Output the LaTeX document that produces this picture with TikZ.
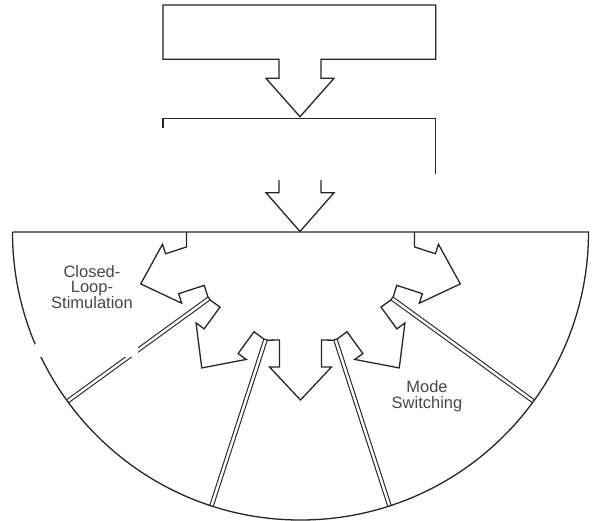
\documentclass[tikz,border=0pt]{standalone}
\usepackage{fontspec}
\setmainfont{Liberation Sans}
\usetikzlibrary{calc}
\begin{document}
\begin{tikzpicture}[x=1pt,y=-1pt,
  outl/.style={line width=1.3pt, draw=black!85, line join=miter},
  divider/.style={draw=black!85, line width=1.1pt, double=white, double distance=2.4pt},
  lbl/.style={font=\fontsize{16.5}{15.5}\selectfont, text=black!72, align=center, inner sep=0pt}]
\useasboundingbox (0,0) rectangle (599,520);

% top box with block arrow
\draw[outl] (279,59.3) -- (163,59.3) -- (163,5) -- (435.7,5) -- (435.7,59.3) -- (321,59.3)
  -- (321,78.3) -- (334,78.3) -- (300,116.7) -- (266,78.3) -- (279,78.3) -- cycle;

% second box (partly erased)
\draw[outl] (163,128.3) -- (163,118.3) -- (435.7,118.3) -- (435.7,174);
% second block arrow
\draw[outl] (279,180) -- (279,192.7) -- (266,192.7) -- (300,231.5) -- (334,192.7) -- (321,192.7) -- (321,180);

% semicircle geometry
\coordinate (C) at (300.5,232);
\coordinate (L) at (12.5,232);
\coordinate (R) at (588.5,232);

\foreach \p [count=\i] in {36,72,108,144} {
  \coordinate (d\i) at ($(C)+(\p:113)$);
  \coordinate (dl\i) at ($(C)+(\p:113)+(\p-90:2.3)$);
  \coordinate (dr\i) at ($(C)+(\p:113)+(\p+90:2.3)$);
  \coordinate (o\i) at ($(C)+(\p:288)$);
}
\foreach \i in {1,...,4} { \draw[divider] (d\i) -- (o\i); }

\draw[outl] (L) -- (R) arc[start angle=0, end angle=180, radius=288];

\foreach \t [count=\i] in {18,54,90,126,162} {
  \coordinate (a\i1) at ($(C)+(\t:108)+(\t-90:21)$);
  \coordinate (a\i2) at ($(C)+(\t:135)+(\t-90:21)$);
  \coordinate (a\i3) at ($(C)+(\t:135)+(\t-90:31)$);
  \coordinate (a\i4) at ($(C)+(\t:168)$);
  \coordinate (a\i5) at ($(C)+(\t:135)+(\t+90:31)$);
  \coordinate (a\i6) at ($(C)+(\t:135)+(\t+90:21)$);
  \coordinate (a\i7) at ($(C)+(\t:108)+(\t+90:21)$);
}
\coordinate (s0) at ($(C)+(18:113)+(-72:21)$);
\coordinate (s4) at ($(C)+(162:113)+(252:21)$);

\draw[outl] (s0 |- C) -- (s0)
  -- (a12) -- (a13) -- (a14) -- (a15) -- (a16) -- (a17) -- (dl1) -- (dr1)
  -- (a21) -- (a22) -- (a23) -- (a24) -- (a25) -- (a26) -- (a27) -- (dl2) -- (dr2)
  -- (a31) -- (a32) -- (a33) -- (a34) -- (a35) -- (a36) -- (a37) -- (dl3) -- (dr3)
  -- (a41) -- (a42) -- (a43) -- (a44) -- (a45) -- (a46) -- (a47) -- (dl4) -- (dr4)
  -- (a51) -- (a52) -- (a53) -- (a54) -- (a55) -- (a56) -- (s4) -- (s4 |- C);

% erased area
\fill[white] (35,344) rectangle (138,357);

\node[lbl] (cls) at (92,287) {Closed-\\Loop-\\Stimulation};
\node[lbl] (mds) at (427,396) {Mode\\Switching};
\end{tikzpicture}
\end{document}
